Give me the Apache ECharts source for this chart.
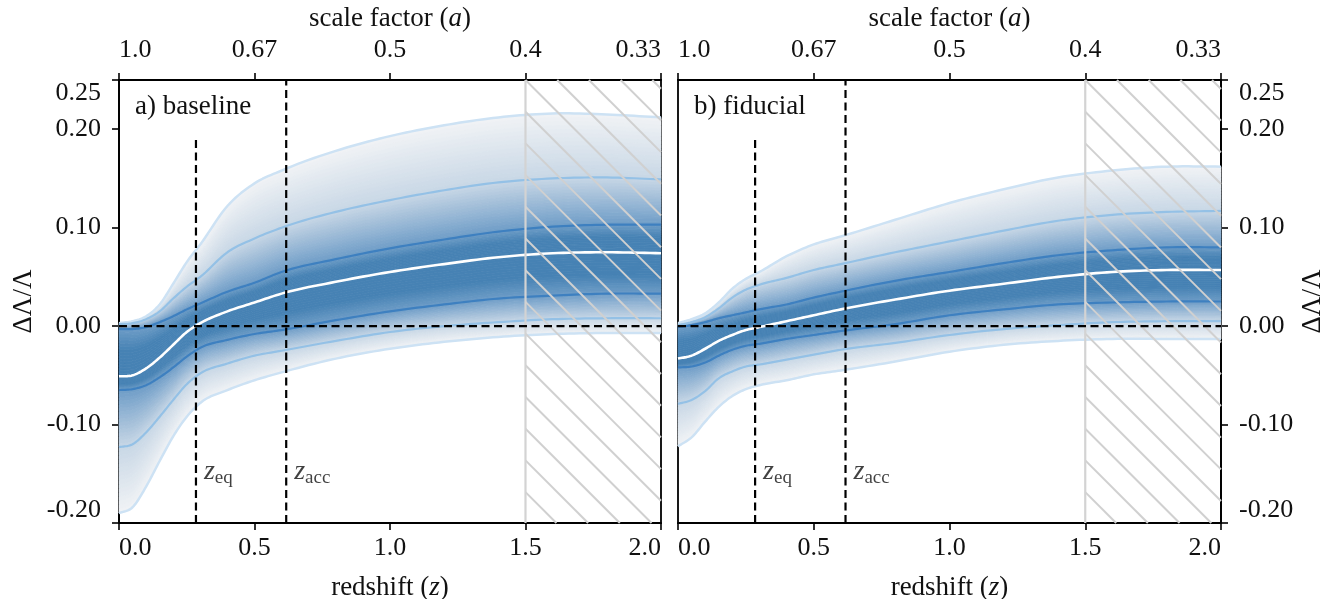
<!DOCTYPE html>
<html><head><meta charset="utf-8">
<script src="https://cdn.jsdelivr.net/npm/echarts@6/dist/echarts.min.js"></script>
<style>html,body{margin:0;padding:0;background:#fff}#c{width:1333px;height:599px}</style>
</head><body><div id="c"></div>
<script>
// ---------- data ----------
const Z = [0, 0.05, 0.1, 0.15, 0.2, 0.25, 0.3, 0.4, 0.5, 0.6, 0.8, 1.0, 1.2, 1.4, 1.6, 1.8, 2.0];

const BASE_U3 = [0.003,0.005,0.010,0.022,0.043,0.065,0.083,0.122,0.145,0.158,0.178,0.193,0.204,0.212,0.216,0.215,0.212];
const BASE_U2 = [0.002,0.003,0.007,0.015,0.028,0.040,0.050,0.075,0.089,0.100,0.116,0.128,0.138,0.146,0.150,0.151,0.149];
const BASE_U1 = [-0.003,-0.003,-0.001,0.004,0.010,0.017,0.023,0.035,0.044,0.055,0.068,0.079,0.088,0.096,0.101,0.103,0.103];
const BASE_MED = [-0.051,-0.050,-0.043,-0.032,-0.019,-0.006,0.003,0.015,0.024,0.033,0.045,0.055,0.063,0.070,0.074,0.075,0.074];
const BASE_L1 = [-0.065,-0.064,-0.060,-0.052,-0.042,-0.031,-0.022,-0.014,-0.008,-0.004,0.006,0.015,0.022,0.028,0.031,0.033,0.033];
const BASE_L2 = [-0.123,-0.120,-0.108,-0.092,-0.075,-0.059,-0.048,-0.038,-0.030,-0.025,-0.015,-0.006,0.000,0.004,0.007,0.008,0.008];
const BASE_L3 = [-0.190,-0.184,-0.163,-0.137,-0.112,-0.092,-0.078,-0.065,-0.055,-0.047,-0.033,-0.023,-0.016,-0.011,-0.008,-0.007,-0.007];

const FID_U3 = [0.003,0.007,0.013,0.024,0.038,0.048,0.055,0.071,0.083,0.091,0.108,0.125,0.139,0.151,0.158,0.162,0.162];
const FID_U2 = [0.001,0.004,0.009,0.018,0.029,0.037,0.042,0.049,0.057,0.063,0.075,0.086,0.097,0.107,0.113,0.116,0.117];
const FID_U1 = [-0.001,0.001,0.004,0.008,0.011,0.014,0.017,0.022,0.029,0.035,0.046,0.055,0.064,0.072,0.077,0.080,0.080];
const FID_MED = [-0.033,-0.030,-0.023,-0.015,-0.009,-0.004,-0.001,0.005,0.011,0.017,0.027,0.036,0.043,0.050,0.055,0.057,0.057];
const FID_L1 = [-0.042,-0.041,-0.037,-0.030,-0.024,-0.020,-0.018,-0.013,-0.009,-0.005,0.002,0.011,0.017,0.022,0.024,0.025,0.025];
const FID_L2 = [-0.079,-0.075,-0.066,-0.053,-0.046,-0.041,-0.039,-0.034,-0.029,-0.024,-0.017,-0.009,-0.003,0.001,0.004,0.005,0.005];
const FID_L3 = [-0.122,-0.113,-0.097,-0.082,-0.071,-0.064,-0.060,-0.055,-0.049,-0.045,-0.036,-0.026,-0.019,-0.015,-0.013,-0.013,-0.013];

const X_TICK_LABELS = ['0.0', '0.5', '1.0', '1.5', '2.0'];
const A_TICK_LABELS = ['1.0', '0.67', '0.5', '0.4', '0.33'];
const Y_TICKS = [-0.2, -0.1, 0, 0.1, 0.2, 0.25];
const X_RANGE = [0, 2];
const Y_RANGE = [-0.2, 0.25];
const Z_EQ = 0.284, Z_EQ_TOP = 0.19, Z_ACC = 0.617;
const HATCH = [1.5, 2.0];
const ZLABEL_Y = -0.148;
const PANEL_TITLES = ['a) baseline', 'b) fiducial'];

const PANELS = [
  {u3: BASE_U3, u2: BASE_U2, u1: BASE_U1, med: BASE_MED, l1: BASE_L1, l2: BASE_L2, l3: BASE_L3},
  {u3: FID_U3, u2: FID_U2, u1: FID_U1, med: FID_MED, l1: FID_L1, l2: FID_L2, l3: FID_L3}
];

// ---------- style ----------
const FONT = 'Liberation Serif';
const TXT = '#111';
const FS = 26, FSN = 27;
const C_OUT = '#f1f3f5', C_MID = '#c8d7e6', C_IN1 = '#6f9dc7', C_CORE = '#4682b4';

function hex(c){return [parseInt(c.slice(1,3),16),parseInt(c.slice(3,5),16),parseInt(c.slice(5,7),16)];}
function lerpStops(stops, t){
  for (let k=0;k<stops.length-1;k++){
    const [o0,c0]=stops[k],[o1,c1]=stops[k+1];
    if (t<=o1 || k===stops.length-2){
      const u=Math.max(0,Math.min(1,(t-o0)/(o1-o0)));
      const a=hex(c0),b=hex(c1);
      return 'rgb('+a.map((v,j)=>Math.round(v+(b[j]-v)*u)).join(',')+')';
    }
  }
}

// smooth curve rendering (cubic Hermite through the data points), returned in pixels
const SUB = 10;
function curvePx(api, xs, ys){
  const n = xs.length, h=[], d=[], m=[];
  for(let i=0;i<n-1;i++){h.push(xs[i+1]-xs[i]); d.push((ys[i+1]-ys[i])/h[i]);}
  for(let i=0;i<n;i++){
    if(i===0) m.push(d[0]); else if(i===n-1) m.push(d[n-2]);
    else m.push((d[i-1]*h[i]+d[i]*h[i-1])/(h[i-1]+h[i]));
  }
  const out=[];
  for(let i=0;i<n-1;i++){
    for(let s=0;s<SUB;s++){
      const t=s/SUB, t2=t*t, t3=t2*t;
      const y=(2*t3-3*t2+1)*ys[i]+(t3-2*t2+t)*h[i]*m[i]+(-2*t3+3*t2)*ys[i+1]+(t3-t2)*h[i]*m[i+1];
      out.push(api.coord([xs[i]+t*h[i], y]));
    }
  }
  out.push(api.coord([xs[n-1], ys[n-1]]));
  return out;
}

function bandSeries(p, outer, inner, stops){
  const K = 16;
  return {
    type:'custom', xAxisIndex:2*p, yAxisIndex:p, z:1, silent:true,
    data:[[X_RANGE[0], 0]],
    renderItem:(params, api)=>{
      const po = curvePx(api, Z, outer), pi = curvePx(api, Z, inner);
      const mix = (t)=>po.map((q,i)=>[q[0]+(pi[i][0]-q[0])*t, q[1]+(pi[i][1]-q[1])*t]);
      const children=[];
      for(let k=0;k<K;k++){
        const a=mix(k/K), b=mix((k+1)/K).reverse();
        const col=lerpStops(stops,(k+0.5)/K);
        children.push({type:'polygon', shape:{points:a.concat(b)}, style:{fill:col, stroke:col, lineWidth:0.8}});
      }
      return {type:'group', children};
    }
  };
}

function lineSeries(p, arr, color, width, z){
  return {type:'custom', xAxisIndex:2*p, yAxisIndex:p, z, silent:true,
    data:[[X_RANGE[0], arr[0]]],
    renderItem:(params, api)=>({type:'polyline', shape:{points:curvePx(api, Z, arr)},
      style:{stroke:color, lineWidth:width, fill:null, lineJoin:'round'}})};
}

function dashed(p, pts){
  return {type:'line', xAxisIndex:2*p, yAxisIndex:p, z:6, silent:true, showSymbol:false, symbol:'none',
    data:pts, lineStyle:{color:'#000', width:2.2, type:[8,4.5]}};
}

function hatchSeries(p){
  return {
    type:'custom', xAxisIndex:2*p, yAxisIndex:p, z:5, silent:true,
    data:[[HATCH[0], HATCH[1]]],
    renderItem:(params, api)=>{
      const tl = api.coord([api.value(0), Y_RANGE[1]]);
      const br = api.coord([api.value(1), Y_RANGE[0]]);
      const x0=tl[0], y0=tl[1], x1=br[0], y1=br[1];
      const step = 31.7;
      const children=[];
      const c0 = y0 - x0;
      const kmin = Math.floor(-(x1-x0)/step)-1, kmax = Math.ceil((y1-y0)/step)+1;
      for(let k=kmin;k<=kmax;k++){
        const c = c0 + k*step;
        const xa = Math.max(x0, y0 - c), xb = Math.min(x1, y1 - c);
        if (xb > xa + 0.5) children.push({type:'line', shape:{x1:xa, y1:xa+c, x2:xb, y2:xb+c}, style:{stroke:'#d0d0d0', lineWidth:2}});
      }
      children.push({type:'line', shape:{x1:x0, y1:y0, x2:x0, y2:y1}, style:{stroke:'#d3d3d3', lineWidth:2.2}});
      return {type:'group', children};
    }
  };
}

function zLabel(p, x, sub){
  return {type:'scatter', xAxisIndex:2*p, yAxisIndex:p, z:7, silent:true, symbolSize:0,
    data:[[x, ZLABEL_Y]],
    label:{show:true, position:'right', distance:8, formatter:'{i|z}{s|'+sub+'}',
      rich:{i:{fontFamily:FONT, fontStyle:'italic', fontSize:28, color:TXT, lineHeight:32, verticalAlign:'middle'},
            s:{fontFamily:FONT, fontSize:19, color:TXT, lineHeight:32, padding:[13,0,0,0], verticalAlign:'middle'}}}};
}

const axisLineStyle = {show:true, onZero:false, lineStyle:{color:'#000', width:1.8}};
const tickStyle = {show:true, length:7, inside:false, lineStyle:{color:'#000', width:1.6}};
const richName = ()=>({
  rich:{r:{fontFamily:FONT, fontSize:FSN, color:TXT}, i:{fontFamily:FONT, fontSize:FSN, fontStyle:'italic', color:TXT}}
});

const grids=[], xAxes=[], yAxes=[], series=[], titles=[];
const gridLefts=[119, 678], gridWidths=[542, 543];
PANELS.forEach((P,p)=>{
  grids.push({left:gridLefts[p], top:80, width:gridWidths[p], height:443, containLabel:false, outerBoundsMode:'none',
    show:true, borderColor:'#000', borderWidth:1.8, backgroundColor:'transparent'});
  xAxes.push({type:'value', gridIndex:p, position:'bottom', min:X_RANGE[0], max:X_RANGE[1], interval:0.5,
    axisLine:axisLineStyle, axisTick:tickStyle, splitLine:{show:false},
    axisLabel:{formatter:v=>X_TICK_LABELS[Math.round(v/0.5)], fontFamily:FONT, fontSize:FS, color:TXT, margin:12,
      alignMinLabel:'left', alignMaxLabel:'right'},
    name:'{r|redshift (}{i|z}{r|)}', nameLocation:'middle', nameGap:51, nameTextStyle:richName()});
  xAxes.push({type:'value', gridIndex:p, position:'top', min:X_RANGE[0], max:X_RANGE[1], interval:0.5,
    axisLine:axisLineStyle, axisTick:tickStyle, splitLine:{show:false},
    axisLabel:{formatter:v=>A_TICK_LABELS[Math.round(v/0.5)], fontFamily:FONT, fontSize:FS, color:TXT, margin:17,
      alignMinLabel:'left', alignMaxLabel:'right'},
    name:'{r|scale factor (}{i|a}{r|)}', nameLocation:'middle', nameGap:42, nameTextStyle:richName()});
  yAxes.push({type:'value', gridIndex:p, position: p===0?'left':'right', min:Y_RANGE[0], max:Y_RANGE[1],
    axisLine:axisLineStyle, axisTick:Object.assign({customValues:Y_TICKS}, tickStyle), splitLine:{show:false},
    axisLabel:{customValues:Y_TICKS, formatter:v=>v.toFixed(2), fontFamily:FONT, fontSize:FS, color:TXT, margin:18,
      verticalAlignMinLabel:'bottom', verticalAlignMaxLabel:'top'},
    name:'ΔΛ/Λ', nameLocation:'middle', nameGap: p===0 ? 82 : 78, nameRotate:90,
    nameTextStyle:{fontFamily:FONT, fontSize:FSN, color:TXT}});

  series.push(bandSeries(p, P.u3, P.u2, [[0,C_OUT],[1,C_MID]]));
  series.push(bandSeries(p, P.u2, P.u1, [[0,C_MID],[1,C_IN1]]));
  series.push(bandSeries(p, P.u1, P.med, [[0,C_IN1],[0.45,C_CORE],[1,C_CORE]]));
  series.push(bandSeries(p, P.l3, P.l2, [[0,C_OUT],[1,C_MID]]));
  series.push(bandSeries(p, P.l2, P.l1, [[0,C_MID],[1,C_IN1]]));
  series.push(bandSeries(p, P.l1, P.med, [[0,C_IN1],[0.45,C_CORE],[1,C_CORE]]));
  series.push(lineSeries(p, P.u3, '#cde2f4', 2.5, 2));
  series.push(lineSeries(p, P.l3, '#cde2f4', 2.5, 2));
  series.push(lineSeries(p, P.u2, '#94c1e6', 2.2, 2));
  series.push(lineSeries(p, P.l2, '#94c1e6', 2.2, 2));
  series.push(lineSeries(p, P.u1, '#3e80c0', 2.2, 2));
  series.push(lineSeries(p, P.l1, '#3e80c0', 2.2, 2));
  series.push(lineSeries(p, P.med, '#ffffff', 2.6, 3));
  series.push(hatchSeries(p));
  series.push(dashed(p, [[X_RANGE[0],0],[X_RANGE[1],0]]));
  series.push(dashed(p, [[Z_EQ,Y_RANGE[0]],[Z_EQ,Z_EQ_TOP]]));
  series.push(dashed(p, [[Z_ACC,Y_RANGE[0]],[Z_ACC,Y_RANGE[1]]]));
  series.push(zLabel(p, Z_EQ, 'eq'));
  series.push(zLabel(p, Z_ACC, 'acc'));
  titles.push({text:PANEL_TITLES[p], left:gridLefts[p]+11, top:88, textStyle:{fontFamily:FONT, fontSize:FSN, fontWeight:'normal', color:TXT}});
});

const chart = echarts.init(document.getElementById('c'), null, {renderer:'canvas'});
chart.setOption({
  backgroundColor:'#fff', animation:false,
  title:titles, grid:grids, xAxis:xAxes, yAxis:yAxes, series
});
</script>
</body></html>
